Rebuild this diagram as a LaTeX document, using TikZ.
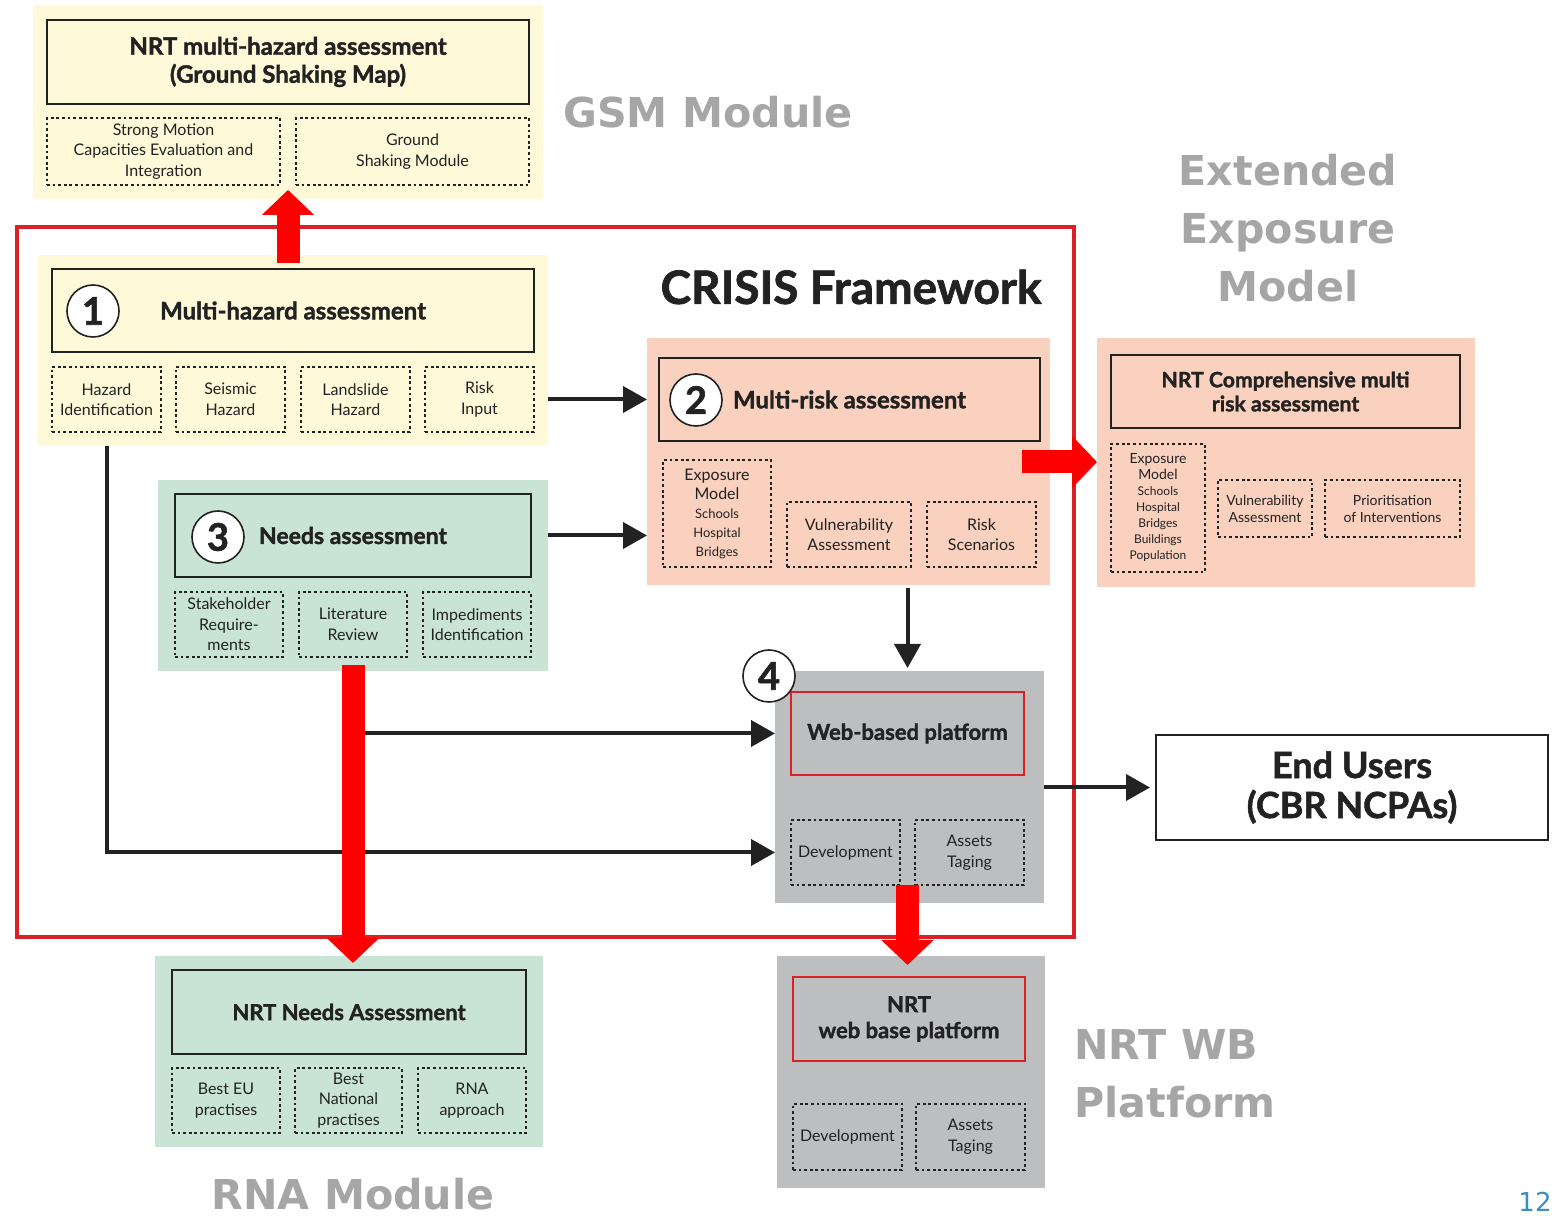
\documentclass[tikz,border=0pt]{standalone}
\usepackage{fontspec}
\setmainfont{Lato}[BoldFeatures={FakeBold=1.5}]
\newfontfamily\vfont{DejaVu Sans}
\usetikzlibrary{arrows.meta}
\definecolor{ylw}{HTML}{FDF9D9}
\definecolor{grn}{HTML}{C9E4D4}
\definecolor{slm}{HTML}{F9D1BE}
\definecolor{gry}{HTML}{BDBEC0}
\definecolor{lblgray}{HTML}{A6A6A6}
\definecolor{frm}{HTML}{DA2128}
\definecolor{ink}{HTML}{222222}
\definecolor{pgblue}{HTML}{3A8FC0}
\newcommand\fs[2]{\fontsize{#1}{#2}\selectfont}
\newcommand\sm[1]{{\fs{6.5}{7.5}#1}}
\newcommand\tn[1]{{\fs{6}{7}#1}}
\newcommand\mkbox[7][]{\node[#1, minimum width={(#5-#3)*0.5pt}, minimum height={(#6-#4)*0.5pt}] (#2) at ({(#3+#5)/2},{(#4+#6)/2}) {#7};}
\tikzset{
  base/.style={inner sep=0pt, outer sep=0pt, align=center, text=ink},
  bgY/.style={base, fill=ylw},
  bgG/.style={base, fill=grn},
  bgS/.style={base, fill=slm},
  bgR/.style={base, fill=gry},
  ttl/.style={base, draw=ink, line width=1.4pt, font=\bfseries\fs{12}{14}},
  redttl/.style={base, draw=frm, line width=1.3pt, font=\bfseries\fs{11}{13}},
  dotbox/.style={base, draw=ink, line width=1.4pt, dash pattern=on 1.4pt off 1.4pt, font=\fs{8}{10.3}},
  num/.style={circle, draw=ink, line width=0.8pt, fill=white, minimum size=26pt, inner sep=0pt, font=\bfseries\fs{19}{20}, text=ink},
  lbl/.style={text=lblgray, font=\vfont\bfseries\fs{20.6}{29}, align=center, inner sep=0pt},
  blk/.style={draw=ink, line width=2pt, -{Triangle[length=12pt,width=13pt]}},
  redarr/.style={draw=red, line width=11.5pt, -{Triangle[length=12.5pt,width=25.5pt]}},
}
\begin{document}
\begin{tikzpicture}[x=0.5pt,y=-0.5pt]
\useasboundingbox (0,0) rectangle (1559,1218);
% ---------- backgrounds
\mkbox[bgY]{gsmbg}{33}{5}{543}{199}{}
\mkbox[bgY]{b1bg}{38}{255}{548}{446}{}
\mkbox[bgS]{b2bg}{647}{338}{1050}{585}{}
\mkbox[bgG]{b3bg}{158}{480}{548}{671}{}
\mkbox[bgR]{b4bg}{775}{671}{1044}{903}{}
\mkbox[bgS]{nrtbg}{1097}{338}{1475}{587}{}
\mkbox[bgG]{rnabg}{155}{956}{543}{1147}{}
\mkbox[bgR]{wbbg}{777}{956}{1045}{1188}{}
% ---------- framework frame
\mkbox[base, draw=frm, line width=2pt]{frame}{17}{227}{1074}{937}{}
% ---------- GSM module
\mkbox[ttl]{gsmt}{47}{20}{529}{104}{NRT multi-hazard assessment\\(Ground Shaking Map)}
\mkbox[dotbox]{gsm1}{47}{118}{280}{185}{Strong Motion\\Capacities Evaluation and\\Integration}
\mkbox[dotbox]{gsm2}{296}{118}{529}{185}{Ground\\Shaking Module}
\node[lbl] (gsmlbl) at (708,112) {GSM Module};
% ---------- CRISIS title
\node[inner sep=0pt, text=ink, font=\bfseries\fs{23}{25}] (crisis) at (851,287) {CRISIS Framework};
% ---------- box 1
\mkbox[ttl]{t1}{52}{269}{534}{352}{Multi-hazard assessment}
\node[num] (n1) at (93,311) {1};
\mkbox[dotbox]{d11}{52}{367}{161}{432}{Hazard\\Identification}
\mkbox[dotbox]{d12}{176}{367}{285}{432}{Seismic\\Hazard}
\mkbox[dotbox]{d13}{301}{367}{410}{432}{Landslide\\Hazard}
\mkbox[dotbox]{d14}{425}{367}{534}{432}{Risk\\Input}
% ---------- box 2
\mkbox[ttl]{t2}{659}{358}{1040}{441}{Multi-risk assessment}
\node[num] (n2) at (696,400) {2};
\mkbox[dotbox, font=\fs{8}{9.5}]{d21}{663}{460}{771}{567}{Exposure\\Model\\\sm{Schools}\\\sm{Hospital}\\\sm{Bridges}}
\mkbox[dotbox]{d22}{787}{502}{911}{567}{Vulnerability\\Assessment}
\mkbox[dotbox]{d23}{927}{502}{1036}{567}{Risk\\Scenarios}
% ---------- box 3
\mkbox[ttl, font=\bfseries\fs{11.5}{14}]{t3}{175}{494}{531}{577}{Needs assessment}
\node[num] (n3) at (218,537) {3};
\mkbox[dotbox]{d31}{175}{592}{283}{657}{Stakeholder\\Require-\\ments}
\mkbox[dotbox]{d32}{299}{592}{407}{657}{Literature\\Review}
\mkbox[dotbox]{d33}{423}{592}{531}{657}{Impediments\\Identification}
% ---------- box 4
\mkbox[redttl]{web}{791}{692}{1024}{775}{Web-based platform}
\mkbox[dotbox]{dev}{791}{820}{900}{885}{Development}
\mkbox[dotbox]{tag}{915}{820}{1024}{885}{Assets\\Taging}
% ---------- end users
\mkbox[base, draw=ink, line width=1.4pt, font=\bfseries\fs{18}{20}]{eu}{1156}{735}{1548}{840}{End Users\\(CBR NCPAs)}
% ---------- extended exposure model
\node[lbl] (extlbl) at (1288,228) {Extended\\Exposure\\Model};
\mkbox[ttl, font=\bfseries\fs{10.6}{12}]{nrtt}{1111}{355}{1460}{428}{NRT Comprehensive multi\\risk assessment}
\mkbox[dotbox, font=\fs{7}{8}]{e1}{1111}{444}{1205}{572}{Exposure\\Model\\\tn{Schools}\\\tn{Hospital}\\\tn{Bridges}\\\tn{Buildings}\\\tn{Population}}
\mkbox[dotbox, font=\fs{7}{8.5}]{e2}{1218}{480}{1312}{537}{Vulnerability\\Assessment}
\mkbox[dotbox, font=\fs{7}{8.5}]{e3}{1325}{480}{1460}{537}{Prioritisation\\of Interventions}
% ---------- RNA module
\mkbox[ttl, font=\bfseries\fs{11}{14}]{rnat}{172}{970}{526}{1054}{NRT Needs Assessment}
\mkbox[dotbox]{r1}{172}{1068}{280}{1133}{Best EU\\practises}
\mkbox[dotbox]{r2}{295}{1068}{402}{1133}{Best\\National\\practises}
\mkbox[dotbox]{r3}{418}{1068}{526}{1133}{RNA\\approach}
\node[lbl] (rnalbl) at (353,1194) {RNA Module};
% ---------- NRT WB platform
\mkbox[redttl]{wbt}{793}{977}{1025}{1061}{NRT\\web base platform}
\mkbox[dotbox]{wb1}{793}{1104}{902}{1170}{Development}
\mkbox[dotbox]{wb2}{916}{1104}{1025}{1170}{Assets\\Taging}
\node[lbl, align=left, anchor=west] (wblbl) at (1074,1074) {NRT WB\\Platform};
% ---------- page number
\node[inner sep=0pt, text=pgblue, font=\vfont\fs{13}{15}] (pg) at (1535,1202) {12};
\node[num] (n4) at (769,676) {4};
% ---------- black connectors
\draw[blk] (b1bg.east |- d14.center) -- (b2bg.west |- d14.center);
\draw[blk] (b3bg.east |- t3.center) -- (b2bg.west |- t3.center);
\draw[blk, shorten <=1.5pt, shorten >=1.5pt] (b2bg.south -| web.center) -- (b4bg.north -| web.center);
\draw[blk, shorten >=3pt] (b4bg.east |- eu.west) -- (eu.west);
\draw[blk] (d11.south |- b1bg.south) |- (b4bg.west |- dev.center);
\draw[blk] (d32.south |- b3bg.south) |- (b4bg.west |- web.center);
% ---------- red block arrows
\draw[redarr] ([yshift=-4pt]gsmbg.south |- b1bg.north) -- ([yshift=4.5pt]gsmbg.south);
\draw[redarr] ([yshift=3pt]d32.south |- b3bg.south) -- ([yshift=-3.5pt]d32.south |- rnabg.north);
\draw[redarr] ([xshift=-14pt]b2bg.east |- 0,462) -- (nrtbg.west |- 0,462);
\draw[redarr] (web.center |- dev.south) -- ([yshift=-4.5pt]web.center |- wbbg.north);
\end{tikzpicture}
\end{document}
